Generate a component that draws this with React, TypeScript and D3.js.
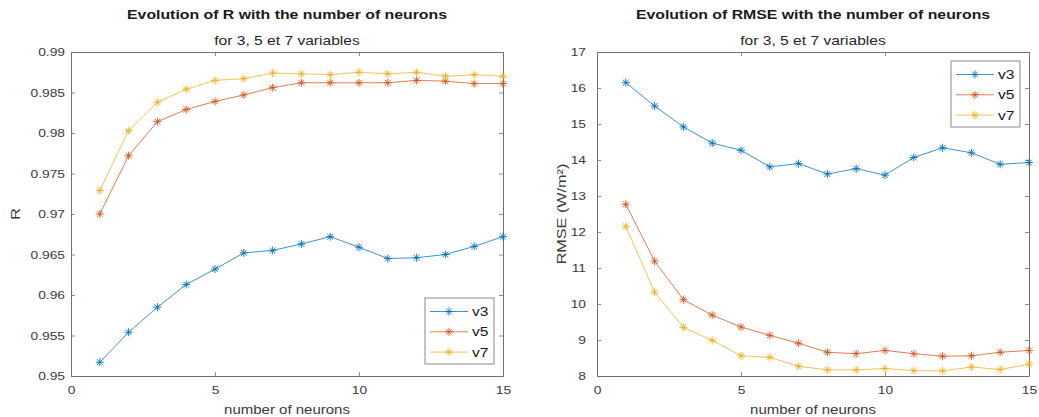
import { useEffect, useRef } from 'react';
import * as d3 from 'd3';

// number of neurons in the hidden layer
const neurons = [1, 2, 3, 4, 5, 6, 7, 8, 9, 10, 11, 12, 13, 14, 15];

// correlation coefficient R
const rV3 = [0.9517, 0.9554, 0.9585, 0.9613, 0.9632, 0.9652, 0.9655, 0.9663, 0.9672, 0.9659, 0.9645, 0.9646, 0.965, 0.966, 0.9672];
const rV5 = [0.97, 0.9772, 0.9814, 0.9829, 0.9839, 0.9847, 0.9856, 0.9862, 0.9862, 0.9862, 0.9862, 0.9865, 0.9864, 0.9861, 0.9861];
const rV7 = [0.9729, 0.9803, 0.9838, 0.9854, 0.9865, 0.9867, 0.9874, 0.9873, 0.9872, 0.9875, 0.9873, 0.9875, 0.987, 0.9872, 0.987];

// RMSE (W/m²)
const rmseV3 = [16.15, 15.5, 14.92, 14.47, 14.27, 13.81, 13.9, 13.61, 13.76, 13.58, 14.07, 14.34, 14.2, 13.88, 13.93];
const rmseV5 = [12.77, 11.19, 10.12, 9.69, 9.36, 9.13, 8.91, 8.66, 8.62, 8.71, 8.62, 8.55, 8.56, 8.66, 8.71];
const rmseV7 = [12.16, 10.33, 9.35, 8.99, 8.56, 8.52, 8.27, 8.17, 8.17, 8.21, 8.15, 8.14, 8.25, 8.18, 8.33];

const seriesNames = ['v3', 'v5', 'v7'];
const seriesColors = ['#0072BD', '#D95319', '#EDB120'];

const xTicks = [0, 5, 10, 15];
const rTicks = [0.95, 0.955, 0.96, 0.965, 0.97, 0.975, 0.98, 0.985, 0.99];
const rmseTicks = [8, 9, 10, 11, 12, 13, 14, 15, 16, 17];

const FONT = '"Liberation Sans", Arial, Helvetica, sans-serif';
const AXIS_COLOR = '#707070';
const TEXT_COLOR = '#3a3a3a';
// the figure's font runs wider than Arial
const WIDEN = 'scale(1.2,1)';

interface PanelProps {
  left: number;
  title: string;
  subtitle: string;
  yLabel: string;
  yDomain: [number, number];
  yTicks: number[];
  series: number[][];
  legendPos: 'br' | 'tr';
  labelGap: number;
  yLabelX: number;
}

function asterisk(r: number) {
  const d = r * 0.72;
  return `M${-r},0L${r},0M0,${-r}L0,${r}M${-d},${-d}L${d},${d}M${-d},${d}L${d},${-d}`;
}

function Panel({ left, title, subtitle, yLabel, yDomain, yTicks, series, legendPos, labelGap, yLabelX }: PanelProps) {
  const gRef = useRef<SVGGElement>(null);

  useEffect(() => {
    if (!gRef.current) return;
    const g = d3.select(gRef.current);
    g.selectAll('*').remove();

    const width = 432;
    const top = 52;
    const height = 324;

    const xScale = d3.scaleLinear().domain([0, 15]).range([left, left + width]);
    const yScale = d3.scaleLinear().domain(yDomain).range([top + height, top]);

    const fmt = (d: any) => String(+Number(d).toFixed(3));

    const bottom = g.append('g')
      .attr('transform', `translate(0,${top + height})`)
      .call(d3.axisBottom(xScale).tickValues(xTicks).tickSizeInner(-4).tickSizeOuter(0) as any);
    const topAx = g.append('g')
      .attr('transform', `translate(0,${top})`)
      .call(d3.axisTop(xScale).tickValues(xTicks).tickSizeInner(-4).tickSizeOuter(0).tickFormat(() => '') as any);
    const leftAx = g.append('g')
      .attr('transform', `translate(${left},0)`)
      .call(d3.axisLeft(yScale).tickValues(yTicks).tickSizeInner(-4).tickSizeOuter(0).tickFormat(fmt) as any);
    const rightAx = g.append('g')
      .attr('transform', `translate(${left + width},0)`)
      .call(d3.axisRight(yScale).tickValues(yTicks).tickSizeInner(-4).tickSizeOuter(0).tickFormat(() => '') as any);

    [bottom, topAx, leftAx, rightAx].forEach(ax => {
      ax.select('.domain').attr('stroke', AXIS_COLOR).attr('stroke-width', 1);
      ax.selectAll('.tick line').attr('stroke', AXIS_COLOR).attr('stroke-width', 0.8);
      ax.selectAll('.tick text')
        .attr('fill', TEXT_COLOR)
        .style('font-family', FONT)
        .style('font-size', '11.5px');
    });
    bottom.selectAll('.tick text')
      .attr('y', 0).attr('dy', 0)
      .attr('transform', `translate(0,18) ${WIDEN}`);
    leftAx.selectAll('.tick text')
      .attr('x', 0)
      .attr('transform', `translate(${-labelGap},0) ${WIDEN}`);

    series.forEach((values, i) => {
      const pts = neurons.map((n, j) => [n, values[j]] as [number, number]);
      const line = d3.line<[number, number]>()
        .x(d => xScale(d[0]))
        .y(d => yScale(d[1]));
      g.append('path')
        .datum(pts)
        .attr('fill', 'none')
        .attr('stroke', seriesColors[i])
        .attr('stroke-width', 0.9)
        .attr('stroke-opacity', 0.85)
        .attr('d', line);
      g.selectAll(`.mk${i}`)
        .data(pts)
        .enter().append('path')
        .attr('class', `mk${i}`)
        .attr('transform', d => `translate(${xScale(d[0])},${yScale(d[1])})`)
        .attr('d', asterisk(4))
        .attr('fill', 'none')
        .attr('stroke', seriesColors[i])
        .attr('stroke-width', 0.9);
    });

    const cx = left + width / 2;
    g.append('text')
      .attr('transform', `translate(${cx},18.5) ${WIDEN}`)
      .attr('text-anchor', 'middle')
      .attr('fill', '#1a1a1a')
      .style('font-family', FONT)
      .style('font-size', '13.2px')
      .style('font-weight', 'bold')
      .text(title);
    g.append('text')
      .attr('transform', `translate(${cx},45) ${WIDEN}`)
      .attr('text-anchor', 'middle')
      .attr('fill', '#262626')
      .style('font-family', FONT)
      .style('font-size', '13px')
      .text(subtitle);

    g.append('text')
      .attr('transform', `translate(${cx},414) ${WIDEN}`)
      .attr('text-anchor', 'middle')
      .attr('fill', TEXT_COLOR)
      .style('font-family', FONT)
      .style('font-size', '12.5px')
      .text('number of neurons');
    g.append('text')
      .attr('transform', `translate(${yLabelX},${top + height / 2}) rotate(-90) ${WIDEN}`)
      .attr('text-anchor', 'middle')
      .attr('fill', TEXT_COLOR)
      .style('font-family', FONT)
      .style('font-size', '13.5px')
      .text(yLabel);

    // legend
    const lw = 69;
    const lh = 66;
    const lx = left + width - 9 - lw;
    const ly = legendPos === 'br' ? top + height - 12 - lh : top + 9;
    const leg = g.append('g').attr('transform', `translate(${lx},${ly})`);
    leg.append('rect')
      .attr('width', lw).attr('height', lh)
      .attr('fill', 'white')
      .attr('stroke', '#8a8a8a')
      .attr('stroke-width', 1);
    seriesNames.forEach((name, i) => {
      const yy = 13.5 + i * 20.3;
      leg.append('line')
        .attr('x1', 5).attr('x2', 43)
        .attr('y1', yy).attr('y2', yy)
        .attr('stroke', seriesColors[i])
        .attr('stroke-width', 0.9)
        .attr('stroke-opacity', 0.85);
      leg.append('path')
        .attr('transform', `translate(24,${yy})`)
        .attr('d', asterisk(4))
        .attr('fill', 'none')
        .attr('stroke', seriesColors[i])
        .attr('stroke-width', 0.9);
      leg.append('text')
        .attr('transform', `translate(47,${yy}) ${WIDEN}`)
        .attr('dy', '0.36em')
        .attr('fill', '#1a1a1a')
        .style('font-family', FONT)
        .style('font-size', '13px')
        .text(name);
    });
  }, [left, title, subtitle, yLabel, yDomain, yTicks, series, legendPos, labelGap, yLabelX]);

  return <g ref={gRef}></g>;
}

export default function App() {
  return (
    <svg width={1039} height={417} style={{ position: 'absolute', left: 0, top: 0, background: 'white' }}>
      <Panel
        left={71}
        title="Evolution of R with the number of neurons"
        subtitle="for 3, 5 et 7 variables"
        yLabel="R"
        yDomain={[0.95, 0.99]}
        yTicks={rTicks}
        series={[rV3, rV5, rV7]}
        legendPos="br"
        labelGap={6}
        yLabelX={20}
      />
      <Panel
        left={597}
        title="Evolution of RMSE with the number of neurons"
        subtitle="for 3, 5 et 7 variables"
        yLabel="RMSE (W/m²)"
        yDomain={[8, 17]}
        yTicks={rmseTicks}
        series={[rmseV3, rmseV5, rmseV7]}
        legendPos="tr"
        labelGap={11}
        yLabelX={566}
      />
    </svg>
  );
}
